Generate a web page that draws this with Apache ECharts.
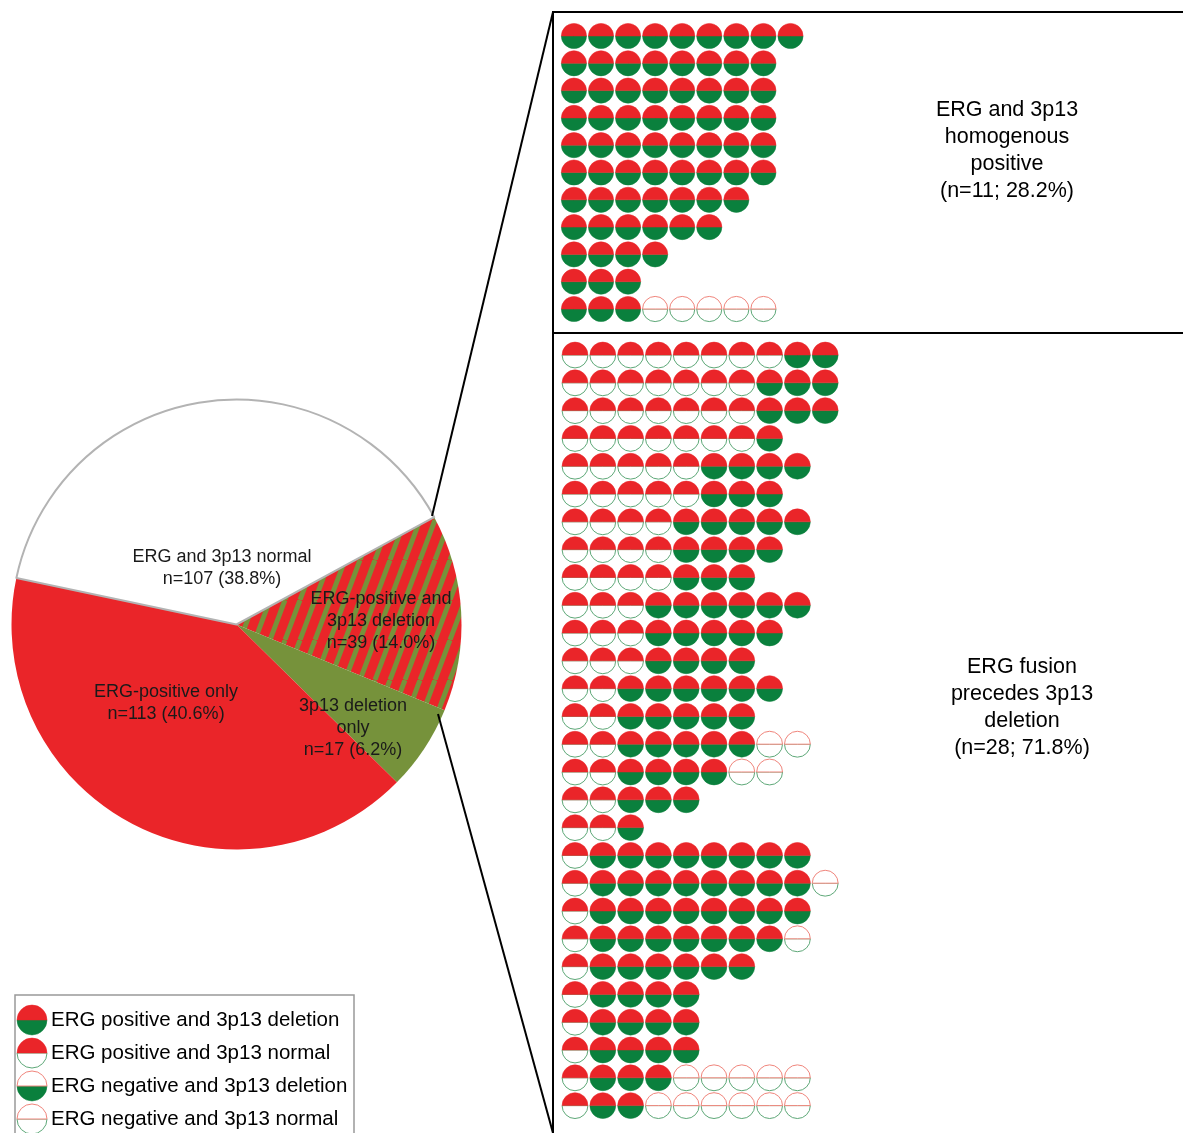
<!DOCTYPE html>
<html><head><meta charset="utf-8">
<script src="https://cdn.jsdelivr.net/npm/echarts@6/dist/echarts.min.js"></script>
<style>html,body{margin:0;padding:0;background:#fff}#c{width:1183px;height:1133px}</style>
</head><body><div id="c"></div>
<script>
// ---------- DATA ----------
const pieNames = ['ERG-positive and\n3p13 deletion', '3p13 deletion\nonly', 'ERG-positive only', 'ERG and 3p13 normal'];
const pieCounts = [39, 17, 113, 107];
const piePercents = ['14.0%', '6.2%', '40.6%', '38.8%'];

// A = ERG positive & 3p13 deletion, B = ERG positive & 3p13 normal,
// C = ERG negative & 3p13 deletion, D = ERG negative & 3p13 normal
const topRows = ['AAAAAAAAA','AAAAAAAA','AAAAAAAA','AAAAAAAA','AAAAAAAA','AAAAAAAA','AAAAAAA','AAAAAA','AAAA','AAA','AAADDDDD'];
const bottomRows = ['BBBBBBBBAA','BBBBBBBAAA','BBBBBBBAAA','BBBBBBBA','BBBBBAAAA','BBBBBAAA','BBBBAAAAA','BBBBAAAA','BBBBAAA',
  'BBBAAAAAA','BBBAAAAA','BBBAAAA','BBAAAAAA','BBAAAAA','BBAAAAADD','BBAAAADD','BBAAA','BBA',
  'BAAAAAAAA','BAAAAAAAAD','BAAAAAAAA','BAAAAAAAD','BAAAAAA','BAAAA','BAAAA','BAAAA','BAAADDDDD','BAADDDDDD'];
const legendTypes = ['A','B','C','D'];
const legendLabels = ['ERG positive and 3p13 deletion','ERG positive and 3p13 normal','ERG negative and 3p13 deletion','ERG negative and 3p13 normal'];
const topText = 'ERG and 3p13\nhomogenous\npositive\n(n=11; 28.2%)';
const bottomText = 'ERG fusion\nprecedes 3p13\ndeletion\n(n=28; 71.8%)';

// ---------- STYLE ----------
const RED = '#ea2529', GREEN = '#0a803d', OLIVE = '#76923b', LRED = '#f0857c', LGREEN = '#5ea878';
const FONT = '"Liberation Sans", Arial, sans-serif';
const LABEL_POS = [[381, 621], [353, 728], [166, 703], [222, 568]];

function stripePattern() {
  const w = 15, h = 40;
  const c = document.createElement('canvas'); c.width = w; c.height = h;
  const g = c.getContext('2d');
  g.fillStyle = RED; g.fillRect(0, 0, w, h);
  g.strokeStyle = OLIVE; g.lineWidth = 5;
  for (let k = -1; k <= 1; k++) { g.beginPath(); g.moveTo(k * w, h); g.lineTo(k * w + w, 0); g.stroke(); }
  return c;
}

function glyph(cx, cy, r, t, z) {
  const ergPos = (t === 'A' || t === 'B');
  const del = (t === 'A' || t === 'C');
  const top = { type: 'sector', z: z || 0, shape: { cx, cy, r0: 0, r, startAngle: Math.PI, endAngle: 2 * Math.PI },
    style: ergPos ? { fill: RED, stroke: RED, lineWidth: 0.5 } : { fill: '#fff', stroke: LRED, lineWidth: 1 } };
  const bot = { type: 'sector', z: z || 0, shape: { cx, cy, r0: 0, r, startAngle: 0, endAngle: Math.PI },
    style: del ? { fill: GREEN, stroke: GREEN, lineWidth: 0.5 } : { fill: '#fff', stroke: LGREEN, lineWidth: 1 } };
  return [bot, top];
}

function rowsToData(rows) {
  const out = [];
  rows.forEach((s, r) => { for (let c = 0; c < s.length; c++) out.push([c, r, s[c]]); });
  return out;
}

function makeRender(rows) {
  return function (params, api) {
    const p = api.coord([api.value(0), api.value(1)]);
    const s = api.size([1, 1]);
    const r = Math.min(s[0], s[1]) * 0.465;
    const t = rows[params.dataIndex][2];
    return { type: 'group', children: glyph(p[0], p[1], r, t) };
  };
}

const topData = rowsToData(topRows);
const bottomData = rowsToData(bottomRows);

const chart = echarts.init(document.getElementById('c'), null, { renderer: 'canvas' });

const legendGraphics = [];
legendTypes.forEach((t, i) => {
  const cy = 1020 + i * 33;
  glyph(32, cy, 15, t, 20).forEach(el => legendGraphics.push(el));
  legendGraphics.push({ type: 'text', x: 51, y: cy, z: 20,
    style: { text: legendLabels[i], fontSize: 20.5, fontFamily: FONT, fill: '#000', align: 'left', verticalAlign: 'middle' } });
});

chart.setOption({
  animation: false,
  backgroundColor: '#fff',
  grid: [
    { left: 560.4, top: 22.35, width: 625.6, height: 300.3 },
    { left: 561.1, top: 341.1, width: 611.6, height: 778.4 }
  ],
  xAxis: [
    { gridIndex: 0, type: 'value', min: -0.5, max: 22.5, show: false },
    { gridIndex: 1, type: 'value', min: -0.5, max: 21.5, show: false }
  ],
  yAxis: [
    { gridIndex: 0, type: 'value', min: -0.5, max: 10.5, inverse: true, show: false },
    { gridIndex: 1, type: 'value', min: -0.5, max: 27.5, inverse: true, show: false }
  ],
  series: [
    {
      type: 'pie', center: [236.5, 624.5], radius: 225, startAngle: 28.5, clockwise: true,
      avoidLabelOverlap: false, silent: true, emphasis: { disabled: true },
      label: { show: true, position: 'inside', fontSize: 18, lineHeight: 22, fontFamily: FONT, color: '#1a1a1a',
        formatter: p => pieNames[p.dataIndex] + '\nn=' + pieCounts[p.dataIndex] + ' (' + piePercents[p.dataIndex] + ')' },
      labelLine: { show: false },
      labelLayout: p => ({ x: LABEL_POS[p.dataIndex][0], y: LABEL_POS[p.dataIndex][1], align: 'center', verticalAlign: 'middle' }),
      data: [
        { name: pieNames[0], value: pieCounts[0], itemStyle: { color: { image: stripePattern(), repeat: 'repeat' }, borderWidth: 0 } },
        { name: pieNames[1], value: pieCounts[1], itemStyle: { color: OLIVE, borderWidth: 0 } },
        { name: pieNames[2], value: pieCounts[2], itemStyle: { color: RED, borderWidth: 0 } },
        { name: pieNames[3], value: pieCounts[3], itemStyle: { color: '#fff', borderColor: '#b3b3b3', borderWidth: 2 } }
      ]
    },
    {
      type: 'custom', xAxisIndex: 0, yAxisIndex: 0, clip: false, silent: true,
      renderItem: makeRender(topData),
      data: topData.map(d => [d[0], d[1]])
    },
    {
      type: 'custom', xAxisIndex: 1, yAxisIndex: 1, clip: false, silent: true,
      renderItem: makeRender(bottomData),
      data: bottomData.map(d => [d[0], d[1]])
    }
  ],
  graphic: [
    { type: 'polyline', z: 5, shape: { points: [[1190, 12], [553, 12], [553, 1140]] }, style: { stroke: '#000', lineWidth: 2, fill: null } },
    { type: 'line', z: 5, shape: { x1: 553, y1: 333, x2: 1190, y2: 333 }, style: { stroke: '#000', lineWidth: 2 } },
    { type: 'line', z: 5, shape: { x1: 432, y1: 516, x2: 553, y2: 12 }, style: { stroke: '#000', lineWidth: 2 } },
    { type: 'line', z: 5, shape: { x1: 438, y1: 714, x2: 553, y2: 1133 }, style: { stroke: '#000', lineWidth: 2 } },
    { type: 'text', x: 1007, y: 150.5, z: 5, style: { text: topText, fontSize: 21.5, lineHeight: 27, fontFamily: FONT, fill: '#000', align: 'center', verticalAlign: 'middle' } },
    { type: 'text', x: 1022, y: 707.5, z: 5, style: { text: bottomText, fontSize: 21.5, lineHeight: 27, fontFamily: FONT, fill: '#000', align: 'center', verticalAlign: 'middle' } },
    { type: 'rect', z: 9, shape: { x: 15, y: 995, width: 339, height: 160 }, style: { fill: '#fff', stroke: '#999', lineWidth: 1.5 } }
  ].concat(legendGraphics)
});
</script></body></html>
